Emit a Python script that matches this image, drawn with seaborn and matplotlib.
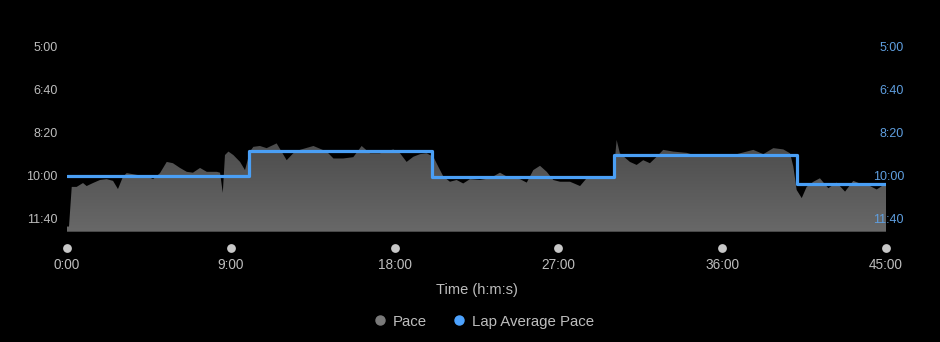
import numpy as np
import pandas as pd
import matplotlib
matplotlib.use("Agg")
import matplotlib.pyplot as plt
import seaborn as sns
from matplotlib.lines import Line2D
from matplotlib.colors import LinearSegmentedColormap

# ---- data ----
time_min = [0.0, 0.11, 0.26, 0.53, 0.88, 1.08, 1.43, 1.81, 2.18, 2.53, 2.80, 3.08, 3.28, 3.83,
            4.38, 4.73, 5.11, 5.48, 5.82, 6.21, 6.58, 6.92, 7.31, 7.68, 8.23, 8.41, 8.56, 8.68,
            8.87, 9.14, 9.51, 9.78, 10.05, 10.24, 10.60, 10.97, 11.52, 12.07, 12.43, 12.80,
            13.54, 14.27, 14.64, 15.18, 15.73, 16.19, 16.65, 17.20, 17.93, 18.30, 18.66, 19.03,
            19.40, 19.76, 20.13, 20.40, 20.68, 21.04, 21.41, 21.77, 22.14, 22.69, 23.24, 23.79,
            24.34, 24.89, 25.26, 25.62, 25.99, 26.36, 26.72, 27.09, 27.64, 28.19, 28.55, 29.10,
            29.65, 30.02, 30.20, 30.38, 30.93, 31.30, 31.66, 32.03, 32.40, 32.76, 33.31, 34.05,
            34.78, 35.51, 36.25, 36.98, 37.71, 38.26, 38.81, 39.36, 39.73, 39.91, 40.09, 40.37,
            40.64, 41.01, 41.37, 41.83, 42.29, 42.75, 43.20, 43.57, 44.03, 44.49, 44.85, 45.0]
pace_sec = [718, 718, 626, 626, 617, 624, 617, 610, 608, 612, 631, 602, 594, 598,
            601, 608, 594, 568, 571, 582, 591, 593, 582, 591, 591, 593, 640, 552,
            544, 552, 568, 587, 544, 533, 531, 536, 525, 564, 548, 540,
            531, 544, 560, 560, 557, 531, 548, 548, 539, 548, 568, 556,
            550, 548, 556, 579, 602, 614, 610, 618, 608, 610, 606, 593,
            606, 608, 616, 587, 577, 591, 610, 614, 614, 624, 606, 602,
            602, 602, 517, 548, 568, 575, 564, 571, 556, 540, 544, 547,
            556, 550, 556, 548, 540, 550, 536, 539, 548, 579, 633, 652,
            626, 614, 606, 629, 616, 637, 612, 618, 622, 632, 622, 620]

lap_start_min = [0.0, 10.0, 20.05, 30.05, 40.1, 45.0]
lap_avg_sec = [600, 542, 602, 551, 620, 620]

x_ticks = [0, 9, 18, 27, 36, 45]
x_tick_labels = ["0:00", "9:00", "18:00", "27:00", "36:00", "45:00"]
y_ticks = [300, 400, 500, 600, 700]
y_tick_labels = ["5:00", "6:40", "8:20", "10:00", "11:40"]

# ---- style ----
sns.set_theme(style="dark")
plt.rcParams["font.family"] = ["Liberation Sans", "DejaVu Sans"]

BG = "#000000"
GRAY_TXT = "#bdbdbd"
BLUE = "#4a9ff5"
BLUE_TXT = "#5f9fe0"

fig = plt.figure(figsize=(9.40, 3.42), dpi=100, facecolor=BG)
ax = fig.add_axes([67 / 940, 1 - 231.7 / 342, (886 - 67) / 940, (231.7 - 40) / 342])
ax.set_facecolor(BG)

Y_BOTTOM, Y_TOP = 730, 285

# area with vertical gradient
df = pd.DataFrame({"t": time_min, "pace": pace_sec})
poly = ax.fill_between(df["t"], df["pace"], Y_BOTTOM, color="none", linewidth=0)
cmap = LinearSegmentedColormap.from_list("g", ["#3a3a3a", "#4a4a4a", "#686868"])
grad = np.linspace(0, 1, 256).reshape(-1, 1)
im = ax.imshow(grad, extent=[0, 45, Y_BOTTOM, Y_TOP], aspect="auto", cmap=cmap,
               origin="upper", zorder=1, interpolation="bilinear")
im.set_clip_path(poly.get_paths()[0], transform=ax.transData)

# lap average steps
lap_df = pd.DataFrame({"t": lap_start_min, "pace": lap_avg_sec})
sns.lineplot(data=lap_df, x="t", y="pace", ax=ax, color=BLUE, linewidth=2.3,
             drawstyle="steps-post", zorder=3)

ax.set_xlim(0, 45)
ax.set_ylim(Y_BOTTOM, Y_TOP)
for s in ax.spines.values():
    s.set_visible(False)
ax.grid(False)

# x ticks
ax.set_xticks(x_ticks)
ax.set_xticklabels(x_tick_labels)
ax.tick_params(axis="x", length=0, pad=19, labelsize=9.8, labelcolor=GRAY_TXT)
ax.scatter(x_ticks, [768.5] * len(x_ticks), s=40, color="#c8c8c8", clip_on=False,
           zorder=4, linewidths=0)

# left y ticks
ax.set_yticks(y_ticks)
ax.set_yticklabels(y_tick_labels)
ax.tick_params(axis="y", length=0, pad=7, labelsize=9.0, labelcolor=GRAY_TXT)

# right y ticks (drawn over plot)
ax2 = ax.twinx()
ax2.set_ylim(Y_BOTTOM, Y_TOP)
ax2.set_yticks(y_ticks)
ax2.set_yticklabels(y_tick_labels)
ax2.tick_params(axis="y", length=0, pad=13, labelsize=9.0, labelcolor=BLUE_TXT)
for lab in ax2.get_yticklabels():
    lab.set_horizontalalignment("right")
for s in ax2.spines.values():
    s.set_visible(False)
ax2.grid(False)

ax.set_xlabel("Time (h:m:s)", color=GRAY_TXT, fontsize=10.5)
ax.set_ylabel("")
ax.xaxis.set_label_coords(0.5, (231.7 - 290) / 191.7)
ax.xaxis.label.set_verticalalignment("center")

handles = [
    Line2D([], [], marker="o", linestyle="none", markersize=6.5, color="#7a7a7a"),
    Line2D([], [], marker="o", linestyle="none", markersize=6.5, color="#4da3ff"),
]
leg = fig.legend(handles, ["Pace", "Lap Average Pace"], loc="center",
                 bbox_to_anchor=(484 / 940, 1 - 321.7 / 342), ncol=2, frameon=False,
                 fontsize=10.8, handlelength=0.8, handletextpad=0.5, columnspacing=1.7,
                 labelcolor=GRAY_TXT)

fig.savefig("out.png", dpi=100, facecolor=BG)
